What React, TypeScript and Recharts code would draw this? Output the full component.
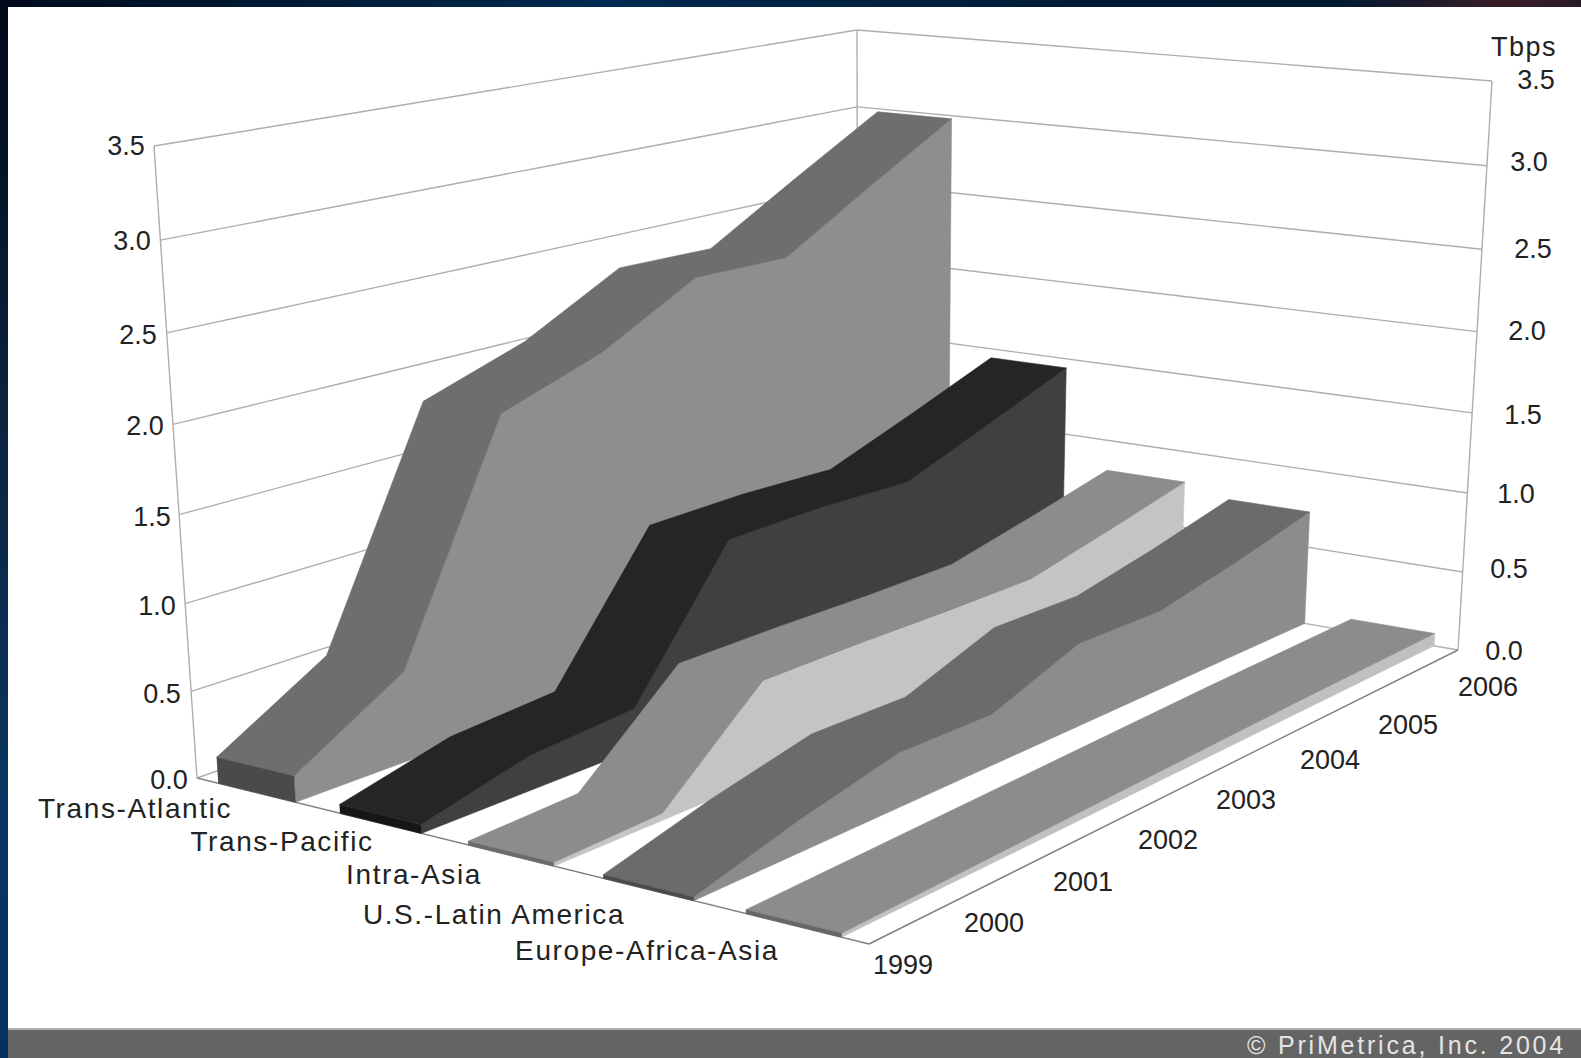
import React from 'react';
import { ScatterChart, Scatter, XAxis, YAxis } from 'recharts';

const WIDTH = 1581;
const HEIGHT = 1058;
const MAX_TBPS = 3.5;

const routes = ['Trans-Atlantic', 'Trans-Pacific', 'Intra-Asia', 'U.S.-Latin America', 'Europe-Africa-Asia'];
const years = ['1999', '2000', '2001', '2002', '2003', '2004', '2005', '2006'];
const tbpsTicks = ['0.0', '0.5', '1.0', '1.5', '2.0', '2.5', '3.0', '3.5'];

const transAtlantic = [0.15, 0.52, 1.83, 2.03, 2.34, 2.33, 2.66, 2.98];
const transPacific = [0.05, 0.2, 0.24, 1.04, 1.05, 1.03, 1.23, 1.44];
const intraAsia = [0.02, 0.04, 0.56, 0.56, 0.55, 0.55, 0.67, 0.8];
const usLatinAmerica = [0.02, 0.18, 0.31, 0.3, 0.5, 0.49, 0.6, 0.73];
const europeAfricaAsia = [0.02, 0.03, 0.04, 0.05, 0.06, 0.07, 0.075, 0.08];
const routeValues = [transAtlantic, transPacific, intraAsia, usLatinAmerica, europeAfricaAsia];

// top, side and front shades of each ribbon
const topShades = ['#6e6e6e', '#252525', '#8c8c8c', '#6b6b6b', '#8c8c8c'];
const sideShades = ['#8e8e8e', '#404040', '#c4c4c4', '#8c8c8c', '#c0c0c0'];
const frontShades = ['#4a4a4a', '#161616', '#6a6a6a', '#4a4a4a', '#666666'];

const RIBBON_DEPTH = 0.64;

type Pt = { px: number; py: number; label?: string };
type Corner = [number, number];

// maps the unit square onto a quadrilateral
const quadMap = (p0: Corner, p1: Corner, p2: Corner, p3: Corner) => {
  const dx1 = p1[0] - p2[0];
  const dx2 = p3[0] - p2[0];
  const sx = p0[0] - p1[0] + p2[0] - p3[0];
  const dy1 = p1[1] - p2[1];
  const dy2 = p3[1] - p2[1];
  const sy = p0[1] - p1[1] + p2[1] - p3[1];
  const den = dx1 * dy2 - dx2 * dy1;
  const g = (sx * dy2 - dx2 * sy) / den;
  const h = (dx1 * sy - sx * dy1) / den;
  const a = p1[0] - p0[0] + g * p1[0];
  const b = p3[0] - p0[0] + h * p3[0];
  const d = p1[1] - p0[1] + g * p1[1];
  const e = p3[1] - p0[1] + h * p3[1];
  return (u: number, v: number): Corner => {
    const w = g * u + h * v + 1;
    return [(a * u + b * v + p0[0]) / w, (d * u + e * v + p0[1]) / w];
  };
};

const floorMap = quadMap([197, 778], [869, 944], [1458, 650], [858, 546]);
const ceilingMap = quadMap([154, 146], [866, 228], [1492, 81], [857, 30]);

// u runs along the route axis, v along the years, z is Tbps
const project = (u: number, v: number, z: number): Pt => {
  const low = floorMap(u, v);
  const high = ceilingMap(u, v);
  const s = z / MAX_TBPS;
  const t = s / (s + (1 - s) * 1.05);
  return { px: low[0] + (high[0] - low[0]) * t, py: low[1] + (high[1] - low[1]) * t };
};

const yearPos = (j: number) => j / (years.length - 1);

const ribbonFaces = (values: number[], i: number) => {
  const u0 = (i + 0.5 - RIBBON_DEPTH / 2) / routes.length;
  const u1 = (i + 0.5 + RIBBON_DEPTH / 2) / routes.length;
  const sideTop = values.map((z, j) => project(u1, yearPos(j), z));
  const sideBase = values.map((_, j) => project(u1, yearPos(j), 0)).reverse();
  const farTop = values.map((z, j) => project(u0, yearPos(j), z)).reverse();
  return {
    side: [...sideTop, ...sideBase],
    top: [...sideTop, ...farTop],
    front: [project(u0, 0, values[0]), project(u1, 0, values[0]), project(u1, 0, 0), project(u0, 0, 0)],
  };
};

const gridLines: Pt[][] = [
  ...tbpsTicks.flatMap((t) => {
    const z = Number(t);
    return [
      [project(0, 0, z), project(0, 0.25, z), project(0, 0.5, z), project(0, 0.75, z), project(0, 1, z)],
      [project(0, 1, z), project(0.25, 1, z), project(0.5, 1, z), project(0.75, 1, z), project(1, 1, z)],
    ];
  }),
  [project(0, 0, 0), project(0, 0, MAX_TBPS)],
  [project(0, 1, 0), project(0, 1, MAX_TBPS)],
  [project(1, 1, 0), project(1, 1, MAX_TBPS)],
];

const floorEdges: Pt[][] = [
  [project(0, 0, 0), project(1, 0, 0)],
  [project(1, 0, 0), project(1, 1, 0)],
];

// label anchors, axis order
const leftSpots: Corner[] = [[169, 780], [162, 694], [157, 606], [152, 517], [145, 426], [138, 335], [132, 241], [126, 146]];
const rightSpots: Corner[] = [[1504, 651], [1509, 569], [1516, 494], [1523, 415], [1527, 331], [1533, 249], [1529, 162], [1536, 80]];
const yearSpots: Corner[] = [[903, 965], [994, 923], [1083, 882], [1168, 840], [1246, 800], [1330, 760], [1408, 725], [1488, 687]];
const routeSpots: Corner[] = [[135, 808], [282, 841], [414, 874], [494, 914], [647, 950]];

const toLabels = (texts: string[], spots: Corner[]): Pt[] =>
  texts.map((label, i) => ({ px: spots[i][0], py: spots[i][1], label }));

const leftLabels = toLabels(tbpsTicks, leftSpots);
const rightLabels = toLabels(tbpsTicks, rightSpots);
const yearLabels = toLabels(years, yearSpots);
const routeLabels = toLabels(routes, routeSpots);

const noDot = () => <g />;

const TextMark = (props: any) => (
  <text
    x={props.cx}
    y={props.cy}
    textAnchor="middle"
    dominantBaseline="central"
    fontFamily="'Liberation Sans', sans-serif"
    fontSize={props.size}
    letterSpacing={props.spacing}
    fill="#222"
  >
    {props.payload.label}
  </text>
);

const App = () => {
  const faces = routeValues.map(ribbonFaces);
  return (
    <div style={{ position: 'absolute', left: 0, top: 0, width: WIDTH, height: HEIGHT, overflow: 'hidden', background: '#fff' }}>
      <div style={{ position: 'absolute', left: 0, top: 0, width: WIDTH, height: 7, background: 'linear-gradient(90deg,#000b1c 0%,#012a50 38%,#001a35 70%,#021a30 85%,#3a1c28 95%,#2a1a28 100%)' }} />
      <div style={{ position: 'absolute', left: 0, top: 0, width: 8, height: HEIGHT, background: 'linear-gradient(180deg,#000a18 0%,#0b2440 40%,#0a3560 75%,#043260 100%)' }} />
      <div style={{ position: 'absolute', left: 8, top: 1028, width: WIDTH - 8, height: 30, background: '#646464', borderTop: '2px solid #b0b0b0', boxSizing: 'border-box' }} />
      <div style={{ position: 'absolute', right: 15, top: 1030, color: '#e4e4e4', fontFamily: "'Liberation Sans', sans-serif", fontSize: 25, letterSpacing: 2.8, lineHeight: '30px', whiteSpace: 'nowrap' }}>
        © PriMetrica, Inc. 2004
      </div>
      <div style={{ position: 'absolute', left: 0, top: 0 }}>
        <ScatterChart width={WIDTH} height={HEIGHT} margin={{ top: 0, right: 0, bottom: 0, left: 0 }}>
          <XAxis type="number" dataKey="px" domain={[0, WIDTH]} hide />
          <YAxis type="number" dataKey="py" domain={[0, HEIGHT]} reversed hide />
          {gridLines.map((pts, i) => (
            <Scatter key={`grid-${i}`} data={pts} isAnimationActive={false} shape={noDot} line={{ stroke: '#aeaeae', strokeWidth: 1.4, fill: 'none' }} />
          ))}
          {floorEdges.map((pts, i) => (
            <Scatter key={`edge-${i}`} data={pts} isAnimationActive={false} shape={noDot} line={{ stroke: '#808080', strokeWidth: 1.4, fill: 'none' }} />
          ))}
          {faces.flatMap((f, i) => [
            <Scatter key={`side-${i}`} data={f.side} isAnimationActive={false} shape={noDot} line={{ fill: sideShades[i], stroke: sideShades[i], strokeWidth: 0.6 }} />,
            <Scatter key={`top-${i}`} data={f.top} isAnimationActive={false} shape={noDot} line={{ fill: topShades[i], stroke: topShades[i], strokeWidth: 0.6 }} />,
            <Scatter key={`front-${i}`} data={f.front} isAnimationActive={false} shape={noDot} line={{ fill: frontShades[i], stroke: frontShades[i], strokeWidth: 0.6 }} />,
          ])}
          <Scatter data={leftLabels} isAnimationActive={false} shape={(p: any) => <TextMark {...p} size={27} spacing={0} />} />
          <Scatter data={rightLabels} isAnimationActive={false} shape={(p: any) => <TextMark {...p} size={27} spacing={0} />} />
          <Scatter data={yearLabels} isAnimationActive={false} shape={(p: any) => <TextMark {...p} size={27} spacing={0} />} />
          <Scatter data={routeLabels} isAnimationActive={false} shape={(p: any) => <TextMark {...p} size={28} spacing={1.6} />} />
          <Scatter data={[{ px: 1524, py: 47, label: 'Tbps' }]} isAnimationActive={false} shape={(p: any) => <TextMark {...p} size={27} spacing={1.5} />} />
        </ScatterChart>
      </div>
    </div>
  );
};

export default App;
